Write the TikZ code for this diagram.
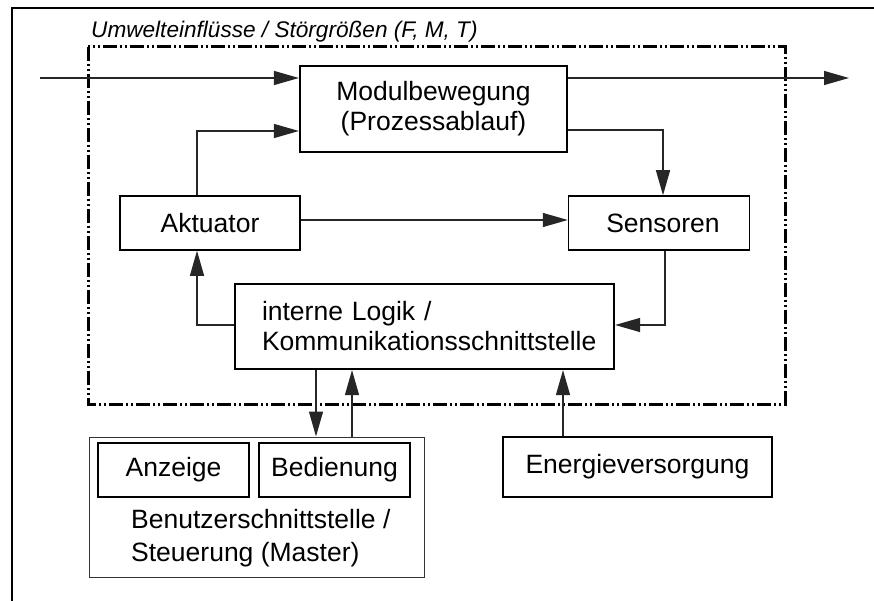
\documentclass[tikz,border=0pt]{standalone}
\usepackage{fontspec}
\setmainfont{Liberation Sans}
\usetikzlibrary{arrows.meta}

\begin{document}
\begin{tikzpicture}[x=1pt,y=-1pt,>={Triangle[length=25pt,width=14pt]},
  font=\fontsize{26.5}{30}\selectfont,
  box/.style={draw,line width=1.5pt,inner sep=0pt,align=center},
  thickbox/.style={box,line width=2.2pt},
  con/.style={->,line width=1.3pt,black!85},
  frameline/.style={line width=3pt,dash pattern=on 14pt off 3pt on 2pt off 3pt on 2pt off 3pt}]
\useasboundingbox (0,0) rectangle (874,601);
% outer frame and system border
\draw[line width=2.4pt] (12,603) -- (12,8) -- (876,8);
\draw[frameline] (88,47) rectangle (785,404);
\node[anchor=base west,inner sep=0pt,font=\fontsize{22.6}{26}\selectfont\itshape] (title) at (91,38) {Umwelteinflüsse / Störgrößen (F, M, T)};
% blocks
\node[thickbox,minimum width=267pt,minimum height=86pt] (modul) at (433.5,109) {Modulbewegung\\(Prozessablauf)};
\node[box,minimum width=180pt,minimum height=54pt] (akt) at (210,223) {Aktuator};
\node[box,minimum width=181pt,minimum height=54pt] (sens) at (659,223) {\hspace{8pt}Sensoren};
\node[thickbox,align=left,text width=325pt,inner xsep=27pt,minimum height=85pt] (logik) at (424.5,326.5) {interne Logik /\\Kommunikationsschnittstelle};
\node[box,line width=1pt,draw=black!80,minimum width=335pt,minimum height=140pt] (ui) at (256.5,507) {};
\node[box,line width=1.2pt,minimum width=151pt,minimum height=54pt] (anz) at (173.5,470) {Anzeige};
\node[box,line width=1.2pt,minimum width=151pt,minimum height=54pt] (bed) at (334.5,470) {Bedienung};
\node[anchor=west,align=left,inner sep=0pt,font=\fontsize{26.5}{33}\selectfont] (uilabel) at (131,538) {Benutzerschnittstelle /\\Steuerung (Master)};
\node[thickbox,minimum width=269pt,minimum height=60pt] (energie) at (637.5,467) {Energieversorgung};
% signal flow
\coordinate (in) at (40,78);
\coordinate (out) at (849,78);
\draw[con] (in) -- (modul.west |- in);
\draw[con] (modul.east |- in) -- (out);
\draw[con] (197,0 |- akt.north) |- (modul.west |- 0,131);
\draw[con] (modul.east |- 0,130) -| (663,0 |- sens.north);
\draw[con] (akt.east |- 0,220) -- (sens.west |- 0,220);
\draw[con] (665,0 |- sens.south) |- (logik.east |- 0,325);
\draw[con] (logik.west |- 0,325) -| (197,0 |- akt.south);
\draw[con] (316,0 |- logik.south) -- (316,0 |- ui.north);
\draw[con] (352,0 |- ui.north) -- (352,0 |- logik.south);
\draw[con] (563,0 |- energie.north) -- (563,0 |- logik.south);
\end{tikzpicture}
\end{document}
